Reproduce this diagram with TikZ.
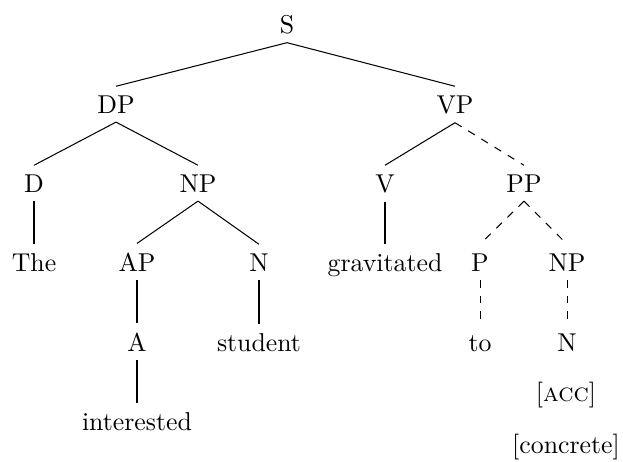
\documentclass[tikz,border=0pt]{standalone}
\usepackage{tikz}

\begin{document}
\begin{tikzpicture}
    [x=0.3876pt,
    y=-0.3876pt,
    every node/.style={anchor=base},
    branch/.style={draw=black},
    gap/.style={draw=black, dashed}
    ]
    \useasboundingbox (0,0) rectangle (623,461);
    \node (s) at (287,33) {S};
    \node (dp) at (116,113) {DP};
    \node (vp) at (455,113) {VP};
    \node (d) at (34,192) {D};
    \node (np) at (198,192) {NP};
    \node (v) at (385,192) {V};
    \node (pp) at (524,192) {PP};
    \node (the) at (34,271) {The};
    \node (ap) at (137,271) {AP};
    \node (n) at (259,271) {N};
    \node (grav) at (385,271) {gravitated};
    \node (p) at (480,271) {P};
    \node (np2) at (567,271) {NP};
    \node (a) at (137,351) {A};
    \node (student) at (259,351) {student};
    \node (to) at (480,351) {to};
    \node (n2) at (567,351) {N};
    \node (interested) at (137,430) {interested};
    \node (acc) at (566,401) {[\textsc{acc}]};
    \node (concrete) at (566,453) {[concrete]};
    \path[branch]
      (s.south) edge (dp.north)
      (s.south) edge (vp.north)
      (dp.south) edge (d.north)
      (dp.south) edge (np.north)
      (vp.south) edge (v.north)
      (d.south) edge (the.north)
      (np.south) edge (ap.north)
      (np.south) edge (n.north)
      (v.south) edge (grav.north)
      (ap.south) edge (a.north)
      (n.south) edge (student.north)
      (a.south) edge (interested.north);
    \path[gap]
      (vp.south) edge (pp.north)
      (pp.south) edge (p.north)
      (pp.south) edge (np2.north)
      (p.south) edge (to.north)
      (np2.south) edge (n2.north);
\end{tikzpicture}
\end{document}
